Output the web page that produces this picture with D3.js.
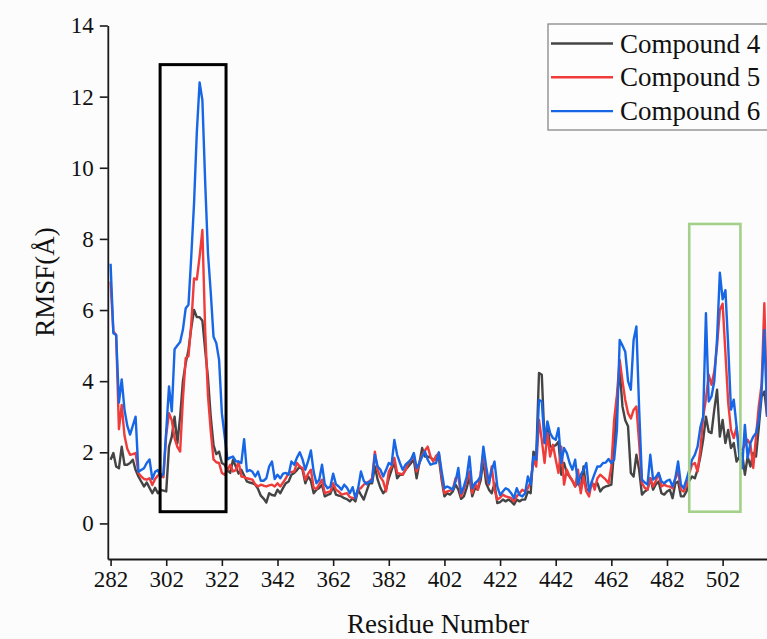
<!DOCTYPE html>
<html>
<head>
<meta charset="utf-8">
<script src="https://cdn.jsdelivr.net/npm/d3@7"></script>
<style>
  html, body { margin: 0; padding: 0; background: #fcfcfc; overflow: hidden; }
  svg { display: block; }
  text { font-family: "Liberation Serif", "Times New Roman", serif; fill: #111; }
</style>
</head>
<body>
<svg id="chart" width="767" height="639"></svg>
<script>
// Residue range and tick labels
const firstResidue = 282;
const xTickValues = [282, 302, 322, 342, 362, 382, 402, 422, 442, 462, 482, 502];
const yTickValues = [0, 2, 4, 6, 8, 10, 12, 14];

// RMSF (Å) per residue, starting at residue 282
const compound4 = [
  1.79, 1.98, 1.6, 1.55, 2.16, 1.65, 1.65, 1.7, 1.79, 1.5,
  1.32, 1.18, 1.04, 1.15, 1.0, 0.85, 1.0, 0.85, 0.94, 0.92,
  0.9, 2.16, 2.44, 3.0, 2.25, 3.0, 4.0, 4.5, 4.88, 5.5,
  6.0, 5.8, 5.8, 5.7, 4.88, 4.1, 3.0, 2.2, 1.95, 2.02,
  1.7, 1.65, 1.5, 1.42, 1.79, 1.6, 1.4, 1.51, 1.35, 1.18,
  1.15, 1.13, 1.09, 0.97, 0.78, 0.7, 0.59, 0.85, 0.8, 0.78,
  0.95, 0.85, 1.0, 1.13, 1.18, 1.37, 1.42, 1.5, 1.6, 1.51,
  1.13, 1.32, 1.2, 0.85, 0.95, 1.0, 1.09, 0.76, 0.8, 0.83,
  1.04, 0.81, 0.78, 0.76, 0.71, 0.68, 0.62, 0.71, 0.62, 0.95,
  0.8, 0.67, 0.9, 1.13, 1.13, 1.6, 1.23, 1.0, 0.85, 0.95,
  1.27, 1.5, 1.74, 1.27, 1.37, 1.37, 1.51, 1.6, 1.7, 1.79,
  1.27, 1.7, 2.12, 1.88, 1.88, 1.85, 1.79, 1.8, 1.84, 1.23,
  0.76, 0.85, 0.81, 0.9, 1.09, 0.95, 0.69, 0.76, 1.0, 1.32,
  0.76, 0.99, 0.95, 1.2, 1.79, 1.13, 0.95, 0.85, 1.13, 0.57,
  0.6, 0.67, 0.62, 0.67, 0.62, 0.53, 0.67, 0.62, 0.67, 0.67,
  0.9, 0.85, 2.02, 1.88, 4.23, 4.18, 2.26, 2.77, 2.16, 2.16,
  2.2, 2.3, 1.37, 1.7, 1.42, 1.32, 1.2, 1.04, 1.23, 0.95,
  1.6, 0.95, 0.95, 1.09, 1.09, 1.13, 0.9, 1.0, 1.04, 1.06,
  1.09, 2.07, 3.47, 4.32, 3.29, 2.9, 2.73, 1.42, 1.32, 1.93,
  1.5, 0.81, 0.9, 0.95, 1.27, 0.95, 1.1, 1.18, 0.85, 0.81,
  0.9, 0.95, 0.71, 1.13, 1.18, 0.76, 0.76, 0.9, 1.2, 1.32,
  1.27, 1.51, 1.88, 2.35, 3.0, 2.58, 2.54, 3.2, 3.76, 2.44,
  2.91, 2.26, 2.63, 2.12, 2.26, 1.74, 1.88, 1.98, 1.37, 1.88,
  1.6, 1.98, 1.88, 2.7, 3.57, 3.71, 3.0
];
const compound5 = [
  6.8, 5.4, 5.3, 2.65, 3.33, 2.47, 2.1, 1.93, 1.95, 1.98,
  1.42, 1.32, 1.25, 1.23, 1.27, 1.08, 1.25, 1.35, 1.4, 1.3,
  2.5, 3.1, 2.9, 2.4, 2.15, 2.02, 3.5, 4.65, 4.7, 5.6,
  6.89, 6.86, 7.5, 8.25, 5.44, 3.6, 2.6, 1.8, 1.72, 1.7,
  1.42, 1.37, 1.5, 1.65, 1.46, 1.5, 1.74, 1.32, 1.3, 1.27,
  1.25, 1.23, 1.1, 1.04, 1.09, 1.06, 1.04, 1.07, 1.09, 1.04,
  1.13, 1.04, 1.15, 1.27, 1.42, 1.45, 1.46, 1.7, 1.6, 1.56,
  1.23, 1.4, 1.51, 1.0, 0.97, 1.1, 1.23, 0.85, 0.88, 0.9,
  1.13, 0.95, 0.9, 0.81, 0.83, 0.85, 0.74, 0.72, 0.71, 0.95,
  1.0, 1.09, 1.15, 1.18, 1.27, 2.02, 1.5, 1.3, 1.18, 0.9,
  1.46, 1.6, 1.84, 1.42, 1.4, 1.37, 1.5, 1.7, 1.79, 1.93,
  1.46, 1.7, 1.93, 2.05, 2.16, 1.88, 1.74, 1.9, 1.98, 1.32,
  0.85, 0.9, 0.92, 0.95, 1.27, 1.32, 0.76, 0.95, 1.2, 1.46,
  0.85, 1.13, 0.95, 1.4, 1.98, 1.37, 1.09, 1.6, 0.95, 0.67,
  0.72, 0.81, 0.76, 0.74, 0.71, 0.62, 0.76, 0.85, 0.95, 0.9,
  0.99, 1.18, 1.79, 1.6, 2.91, 2.35, 1.7, 2.54, 1.88, 2.21,
  1.8, 1.42, 2.16, 1.09, 1.51, 1.32, 1.2, 1.04, 1.51, 0.85,
  1.32, 0.9, 0.76, 1.18, 0.95, 1.27, 1.37, 1.3, 1.23, 1.13,
  1.6, 2.91, 3.6, 4.6, 4.0, 3.47, 3.1, 2.95, 3.19, 3.29,
  2.26, 1.13, 1.0, 0.95, 1.27, 1.04, 1.2, 1.42, 1.04, 1.09,
  1.05, 1.04, 0.99, 1.27, 1.46, 0.95, 0.9, 1.04, 1.4, 1.65,
  1.7, 1.46, 2.07, 3.0, 3.5, 4.18, 3.9, 4.27, 5.0, 6.0,
  6.18, 4.8, 3.4, 2.63, 2.4, 2.7, 2.07, 2.07, 2.2, 2.35,
  2.21, 1.56, 2.44, 3.3, 3.9, 6.19, 3.0
];
const compound6 = [
  7.3, 5.35, 5.3, 3.4, 4.05, 3.2, 2.75, 2.5, 2.75, 3.0,
  1.45, 1.5, 1.55, 1.7, 1.8, 1.25, 1.45, 1.5, 1.3, 1.4,
  2.6, 3.85, 3.15, 4.9, 5.0, 5.1, 5.45, 6.05, 6.15, 7.5,
  9.0, 11.0, 12.4, 11.9, 9.6, 7.6, 6.5, 5.25, 5.07, 4.6,
  3.1, 2.45, 1.8, 1.85, 1.88, 1.75, 1.74, 1.7, 2.37, 1.46,
  1.5, 1.45, 1.32, 1.46, 1.2, 1.2, 1.27, 1.6, 1.74, 1.25,
  1.37, 1.27, 1.4, 1.42, 1.37, 1.74, 1.65, 1.85, 2.0, 1.8,
  1.51, 1.75, 2.05, 1.45, 1.13, 1.23, 1.65, 1.1, 0.99, 1.04,
  1.4, 1.1, 1.04, 0.95, 1.09, 1.0, 0.85, 1.02, 0.71, 1.0,
  1.46, 1.2, 1.1, 1.18, 1.18, 1.93, 1.6, 1.51, 1.32, 1.5,
  1.7, 1.65, 2.35, 1.93, 1.7, 1.51, 1.65, 1.72, 1.8, 1.98,
  1.56, 1.7, 1.88, 2.02, 1.79, 1.65, 1.68, 1.7, 2.0, 1.46,
  0.99, 1.04, 1.0, 0.95, 1.18, 1.56, 0.85, 1.04, 1.3, 1.88,
  0.99, 1.13, 1.2, 1.32, 2.16, 1.6, 1.13, 1.5, 1.74, 1.04,
  0.8, 0.9, 0.99, 0.95, 0.85, 0.71, 0.99, 0.8, 0.76, 0.85,
  1.32, 1.09, 1.88, 1.79, 3.47, 3.43, 2.26, 2.87, 2.54, 2.4,
  2.35, 2.68, 1.7, 2.12, 1.98, 1.7, 1.51, 1.79, 1.09, 1.37,
  1.5, 1.7, 0.9, 1.18, 1.4, 1.6, 1.6, 1.7, 1.71, 1.81,
  1.7, 1.79, 2.63, 5.16, 5.0, 4.83, 4.0, 3.76, 5.16, 5.54,
  3.2, 1.23, 1.15, 1.09, 1.93, 1.23, 1.3, 1.42, 1.18, 1.13,
  1.2, 1.23, 1.04, 1.27, 1.74, 1.09, 0.99, 1.23, 1.5, 1.79,
  1.93, 2.16, 2.7, 3.0, 5.91, 3.43, 3.57, 4.0, 5.2, 7.05,
  6.3, 6.56, 5.0, 3.2, 3.48, 2.73, 1.9, 1.55, 2.77, 1.84,
  2.26, 2.44, 2.54, 2.9, 3.7, 5.44, 3.0
];

const seriesNames = ["Compound 4", "Compound 5", "Compound 6"];
const seriesColors = ["#444444", "#f03b3b", "#1766e6"];

// Highlighted regions (residue span, RMSF span)
const regionStart = [299.8, 490.0];
const regionEnd = [323.5, 508.4];
const regionTop = [12.9, 8.42];
const regionBottom = [0.33, 0.33];
const regionColors = ["#000000", "#a3d18a"];
const regionWidths = [3, 2.6];

const svg = d3.select("#chart");

const x = d3.scaleLinear().domain([281, 520]).range([107.8, 772.7]);
const y = d3.scaleLinear().domain([-1, 14]).range([559, 25.5]);

// Axes
const yAxis = svg.append("g")
  .attr("transform", `translate(${x(281)},0)`)
  .call(d3.axisLeft(y).tickValues(yTickValues).tickSize(8).tickPadding(6).tickSizeOuter(0));
const xAxis = svg.append("g")
  .attr("transform", `translate(0,${y(-1)})`)
  .call(d3.axisBottom(x).tickValues(xTickValues).tickSize(7).tickPadding(5).tickSizeOuter(0));

[xAxis, yAxis].forEach(g => {
  g.select(".domain").attr("stroke", "#1a1a1a").attr("stroke-width", 1.8);
  g.selectAll(".tick line").attr("stroke", "#1a1a1a").attr("stroke-width", 1.6);
  g.selectAll(".tick text")
    .attr("font-family", "'Liberation Serif', 'Times New Roman', serif")
    .attr("font-size", 23).attr("fill", "#111");
});

// Series lines
const line = d3.line()
  .x((d, i) => x(firstResidue + i))
  .y(d => y(d));

[compound4, compound5, compound6].forEach((vals, k) => {
  svg.append("path")
    .datum(vals)
    .attr("fill", "none")
    .attr("stroke", seriesColors[k])
    .attr("stroke-width", 2.4)
    .attr("stroke-linejoin", "round")
    .attr("d", line);
});

// Highlight rectangles
regionStart.forEach((s, i) => {
  svg.append("rect")
    .attr("x", x(s)).attr("y", y(regionTop[i]))
    .attr("width", x(regionEnd[i]) - x(s))
    .attr("height", y(regionBottom[i]) - y(regionTop[i]))
    .attr("fill", "none")
    .attr("stroke", regionColors[i])
    .attr("stroke-width", regionWidths[i]);
});

// Axis titles
svg.append("text")
  .attr("x", 438).attr("y", 633)
  .attr("text-anchor", "middle")
  .attr("font-size", 27)
  .text("Residue Number");
svg.append("text")
  .attr("transform", "translate(54,282) rotate(-90)")
  .attr("text-anchor", "middle")
  .attr("font-size", 27)
  .text("RMSF(Å)");

// Legend
const legend = svg.append("g");
legend.append("rect")
  .attr("x", 548).attr("y", 24)
  .attr("width", 240).attr("height", 106)
  .attr("fill", "#fdfdfd")
  .attr("stroke", "#888").attr("stroke-width", 1.3);
seriesNames.forEach((name, k) => {
  const cy = 43.5 + k * 33.8;
  legend.append("line")
    .attr("x1", 551).attr("x2", 613)
    .attr("y1", cy).attr("y2", cy)
    .attr("stroke", seriesColors[k]).attr("stroke-width", 2.4);
  legend.append("text")
    .attr("x", 620).attr("y", cy)
    .attr("dy", "0.34em")
    .attr("font-size", 27)
    .text(name);
});
</script>
</body>
</html>
